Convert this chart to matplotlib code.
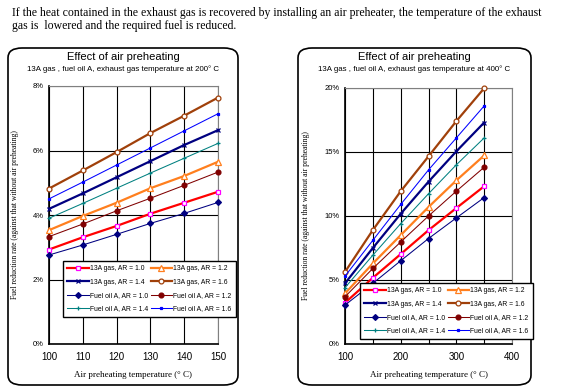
import matplotlib.pyplot as plt
from matplotlib.patches import FancyBboxPatch

plt.rcParams['font.family'] = ['Liberation Sans', 'DejaVu Sans']

# left chart: exhaust gas 200 C
temps_200 = [100, 110, 120, 130, 140, 150]
gas_10_200 = [2.93, 3.31, 3.66, 4.04, 4.38, 4.72]
gas_12_200 = [3.53, 3.97, 4.38, 4.83, 5.21, 5.65]
gas_14_200 = [4.19, 4.67, 5.17, 5.67, 6.17, 6.63]
gas_16_200 = [4.82, 5.38, 5.95, 6.54, 7.08, 7.64]
oil_10_200 = [2.76, 3.07, 3.40, 3.74, 4.05, 4.39]
oil_12_200 = [3.33, 3.72, 4.13, 4.52, 4.92, 5.33]
oil_14_200 = [3.90, 4.36, 4.83, 5.30, 5.76, 6.22]
oil_16_200 = [4.50, 5.02, 5.55, 6.08, 6.61, 7.14]

# right chart: exhaust gas 400 C
temps_400 = [100, 150, 200, 250, 300, 350]
gas_10_400 = [3.22, 5.17, 7.02, 8.89, 10.62, 12.32]
gas_12_400 = [3.95, 6.29, 8.50, 10.70, 12.78, 14.73]
gas_14_400 = [4.74, 7.50, 10.17, 12.68, 15.05, 17.30]
gas_16_400 = [5.63, 8.90, 11.93, 14.66, 17.41, 19.98]
oil_10_400 = [3.04, 4.74, 6.50, 8.24, 9.85, 11.44]
oil_12_400 = [3.69, 5.90, 7.97, 10.00, 11.94, 13.81]
oil_14_400 = [4.40, 6.94, 9.40, 11.74, 14.00, 16.10]
oil_16_400 = [5.30, 8.10, 10.90, 13.60, 16.10, 18.60]

labels = ['13A gas, AR = 1.0', '13A gas, AR = 1.2', '13A gas, AR = 1.4', '13A gas, AR = 1.6',
          'Fuel oil A, AR = 1.0', 'Fuel oil A, AR = 1.2', 'Fuel oil A, AR = 1.4', 'Fuel oil A, AR = 1.6']

# line style per series: color, width, marker, marker face, marker edge, marker size
styles = [
    ('#ff0000', 1.6, 's', 'white', '#ff00ff', 3.5),
    ('#ff7f1e', 1.6, '^', 'white', '#ff7f1e', 4),
    ('#000080', 1.6, 'x', 'white', '#000080', 3),
    ('#a0400a', 1.6, 'o', 'white', '#a0400a', 3.5),
    ('#000080', 0.75, 'D', '#000080', '#000080', 3),
    ('#800000', 0.75, 'o', '#800000', '#800000', 3.5),
    ('#008080', 0.75, '+', '#008080', '#008080', 3.5),
    ('#0000ff', 0.75, 's', '#0000ff', '#0000ff', 2),
]

W, H = 564, 390
fig = plt.figure(figsize=(W / 100, H / 100), dpi=100)


def fr(x0, y0, x1, y1):
    return [x0 / W, 1 - y1 / H, (x1 - x0) / W, (y1 - y0) / H]


fig.text(12 / W, 1 - 13 / H,
         'If the heat contained in the exhaust gas is recovered by installing an air preheater, the temperature of the exhaust',
         family='Liberation Serif', fontsize=8.5, va='center', ha='left')
fig.text(12 / W, 1 - 26 / H, 'gas is  lowered and the required fuel is reduced.',
         family='Liberation Serif', fontsize=8.5, va='center', ha='left')

panels = [
    dict(box=(8, 48, 238, 385), ax=(49, 86, 218, 344), temps=temps_200,
         series=[gas_10_200, gas_12_200, gas_14_200, gas_16_200, oil_10_200, oil_12_200, oil_14_200, oil_16_200],
         sub='13A gas , fuel oil A, exhaust gas temperature at 200° C',
         xlim=(100, 150), xt=[100, 110, 120, 130, 140, 150], xminor=[],
         ylim=(0, 8), yt=[0, 2, 4, 6, 8], leg=(63, 261), cx=123),
    dict(box=(298, 48, 531, 385), ax=(345, 88, 512, 344), temps=temps_400,
         series=[gas_10_400, gas_12_400, gas_14_400, gas_16_400, oil_10_400, oil_12_400, oil_14_400, oil_16_400],
         sub='13A gas , fuel oil A, exhaust gas temperature at 400° C',
         xlim=(100, 400), xt=[100, 200, 300, 400], xminor=[150, 250, 350],
         ylim=(0, 20), yt=[0, 5, 10, 15, 20], leg=(360, 283), cx=414),
]

for p in panels:
    bx0, by0, bx1, by1 = p['box']
    box = FancyBboxPatch((bx0 / W, 1 - by1 / H), (bx1 - bx0) / W, (by1 - by0) / H,
                         boxstyle='round,pad=0,rounding_size=0.025', transform=fig.transFigure,
                         facecolor='none', edgecolor='black', lw=1.2, zorder=-1)
    fig.patches.append(box)
    fig.text(p['cx'] / W, 1 - 57 / H, 'Effect of air preheating', fontsize=8, ha='center', va='center')
    fig.text(p['cx'] / W, 1 - 69 / H, p['sub'], fontsize=5.7, ha='center', va='center')

    ax = fig.add_axes(fr(*p['ax']))
    handles = []
    for vals, (c, lw, m, mfc, mec, ms) in zip(p['series'], styles):
        h, = ax.plot(p['temps'], vals, color=c, lw=lw, marker=m, mfc=mfc, mec=mec,
                     ms=ms, mew=0.9, clip_on=False, zorder=3)
        handles.append(h)
    ax.set_xlim(*p['xlim'])
    ax.set_ylim(*p['ylim'])
    ax.set_xticks(p['xt'])
    ax.set_xticks(p['xminor'], minor=True)
    ax.set_yticks(p['yt'])
    ax.set_yticklabels(['%d%%' % v for v in p['yt']])
    ax.grid(True, which='both', color='black', lw=0.8)
    ax.set_axisbelow(True)
    ax.tick_params(which='both', length=0, labelsize=7, pad=6)
    ax.tick_params(axis='y', labelsize=5.5, pad=4)
    for s in ['left', 'bottom']:
        ax.spines[s].set_linewidth(1.2)
    for s in ['right', 'top']:
        ax.spines[s].set_color('#808080')
    ax.set_xlabel('Air preheating temperature (° C)', family='Liberation Serif', fontsize=6.5, labelpad=6)
    ax.set_ylabel('Fuel reduction rate (against that without air preheating)', family='Liberation Serif',
                  fontsize=5.5, labelpad=10)

    lx0, ly0 = p['leg']
    order = [0, 2, 4, 6, 1, 3, 5, 7]
    leg = fig.legend([handles[i] for i in order], [labels[i] for i in order], ncol=2,
                     loc='upper left', bbox_to_anchor=(lx0 / W, 1 - ly0 / H),
                     fontsize=4.9, frameon=True, fancybox=False, edgecolor='black', framealpha=1,
                     handlelength=3.1, handletextpad=0.15, columnspacing=0.45,
                     labelspacing=0.92, borderaxespad=0, borderpad=0.65)
    leg.get_frame().set_linewidth(1.0)
    leg.set_zorder(5)

fig.savefig('out.png', dpi=100)
